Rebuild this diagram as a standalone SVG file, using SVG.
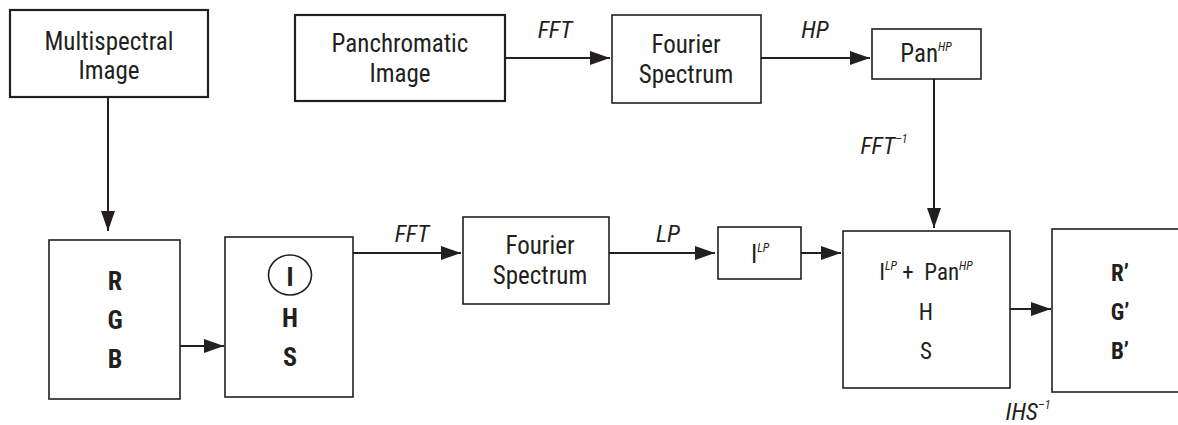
<svg xmlns="http://www.w3.org/2000/svg" width="1178" height="425" viewBox="0 0 1178 425">
<style>
text{font-family:"Liberation Sans Narrow","Roboto Condensed","DejaVu Sans Condensed","Liberation Sans",sans-serif;fill:#231f20;text-anchor:middle}
.t{font-size:25px}
.m{font-size:23px}
.b{font-size:26px;font-weight:bold}
.bp{font-size:23px;font-weight:bold}
.l{font-size:24px;font-style:italic}
.sup{font-size:12px;font-style:italic}
.box{fill:#fff;stroke:#231f20;stroke-width:1.6}
.thick{stroke-width:2.2}
.c{stroke:#231f20;stroke-width:2;fill:none}
</style>
<defs>
<marker id="ah" markerUnits="userSpaceOnUse" markerWidth="20" markerHeight="14" refX="20" refY="7" orient="auto">
<path d="M0,0 L20,7 L0,14 z" fill="#231f20"/>
</marker>
</defs>
<g id="connectors">
<line class="c" x1="108" y1="97" x2="108" y2="231" marker-end="url(#ah)"/>
<line class="c" x1="180" y1="346" x2="224" y2="346" marker-end="url(#ah)"/>
<line class="c" x1="353" y1="253" x2="461" y2="253" marker-end="url(#ah)"/>
<line class="c" x1="609" y1="253" x2="715" y2="253" marker-end="url(#ah)"/>
<line class="c" x1="801" y1="253" x2="841" y2="253" marker-end="url(#ah)"/>
<line class="c" x1="1010" y1="309" x2="1051" y2="309" marker-end="url(#ah)"/>
<line class="c" x1="505" y1="58" x2="610" y2="58" marker-end="url(#ah)"/>
<line class="c" x1="761" y1="58" x2="870" y2="58" marker-end="url(#ah)"/>
<line class="c" x1="934" y1="79" x2="934" y2="228" marker-end="url(#ah)"/>
<text class="l" x="555" y="38">FFT</text>
<text class="l" x="815" y="38">HP</text>
<text class="l" x="884" y="154">FFT<tspan class="sup" font-style="normal" dy="-11">–1</tspan></text>
<text class="l" x="412" y="242">FFT</text>
<text class="l" x="668" y="242">LP</text>
<text class="l" x="1028" y="420">IHS<tspan class="sup" font-style="normal" dy="-11">–1</tspan></text>
</g>
<g id="multispectral">
<rect class="box thick" x="10" y="10" width="198" height="87"/>
<text class="t" x="109" y="50">Multispectral</text>
<text class="t" x="109" y="79">Image</text>
</g>
<g id="panchromatic">
<rect class="box thick" x="295" y="15" width="210" height="86"/>
<text class="t" x="400" y="52">Panchromatic</text>
<text class="t" x="400" y="82">Image</text>
</g>
<g id="fourier1">
<rect class="box" x="612" y="15" width="149" height="88"/>
<text class="t" x="686" y="53">Fourier</text>
<text class="t" x="686" y="83">Spectrum</text>
</g>
<g id="panhp">
<rect class="box" x="872" y="29" width="109" height="50"/>
<text class="t" x="926" y="62">Pan<tspan class="sup" dy="-11">HP</tspan></text>
</g>
<g id="rgb">
<rect class="box" x="49" y="240" width="131" height="159"/>
<text class="b" x="115" y="290">R</text>
<text class="b" x="115" y="329">G</text>
<text class="b" x="115" y="368">B</text>
</g>
<g id="ihs">
<rect class="box" x="225" y="237" width="128" height="160"/>
<ellipse cx="290" cy="275" rx="21.5" ry="20" fill="none" stroke="#231f20" stroke-width="1.6"/>
<text class="b" x="290" y="286">I</text>
<text class="b" x="290" y="327">H</text>
<text class="b" x="290" y="366">S</text>
</g>
<g id="fourier2">
<rect class="box" x="463" y="217" width="146" height="87"/>
<text class="t" x="540" y="254">Fourier</text>
<text class="t" x="540" y="284">Spectrum</text>
</g>
<g id="ilp">
<rect class="box" x="718" y="227" width="83" height="52"/>
<text class="t" x="760" y="263">I<tspan class="sup" dy="-11">LP</tspan></text>
</g>
<g id="merge">
<rect class="box" x="843" y="231" width="167" height="157"/>
<text class="m" x="926" y="280" xml:space="preserve">I<tspan class="sup" dy="-10">LP</tspan><tspan dy="10"> +  Pan</tspan><tspan class="sup" dy="-10">HP</tspan></text>
<text class="m" x="926" y="320">H</text>
<text class="m" x="926" y="359">S</text>
</g>
<g id="rgbprime">
<rect class="box" x="1052" y="229" width="140" height="163"/>
<text class="bp" x="1120" y="281">R’</text>
<text class="bp" x="1120" y="320">G’</text>
<text class="bp" x="1120" y="359">B’</text>
</g>
</svg>
